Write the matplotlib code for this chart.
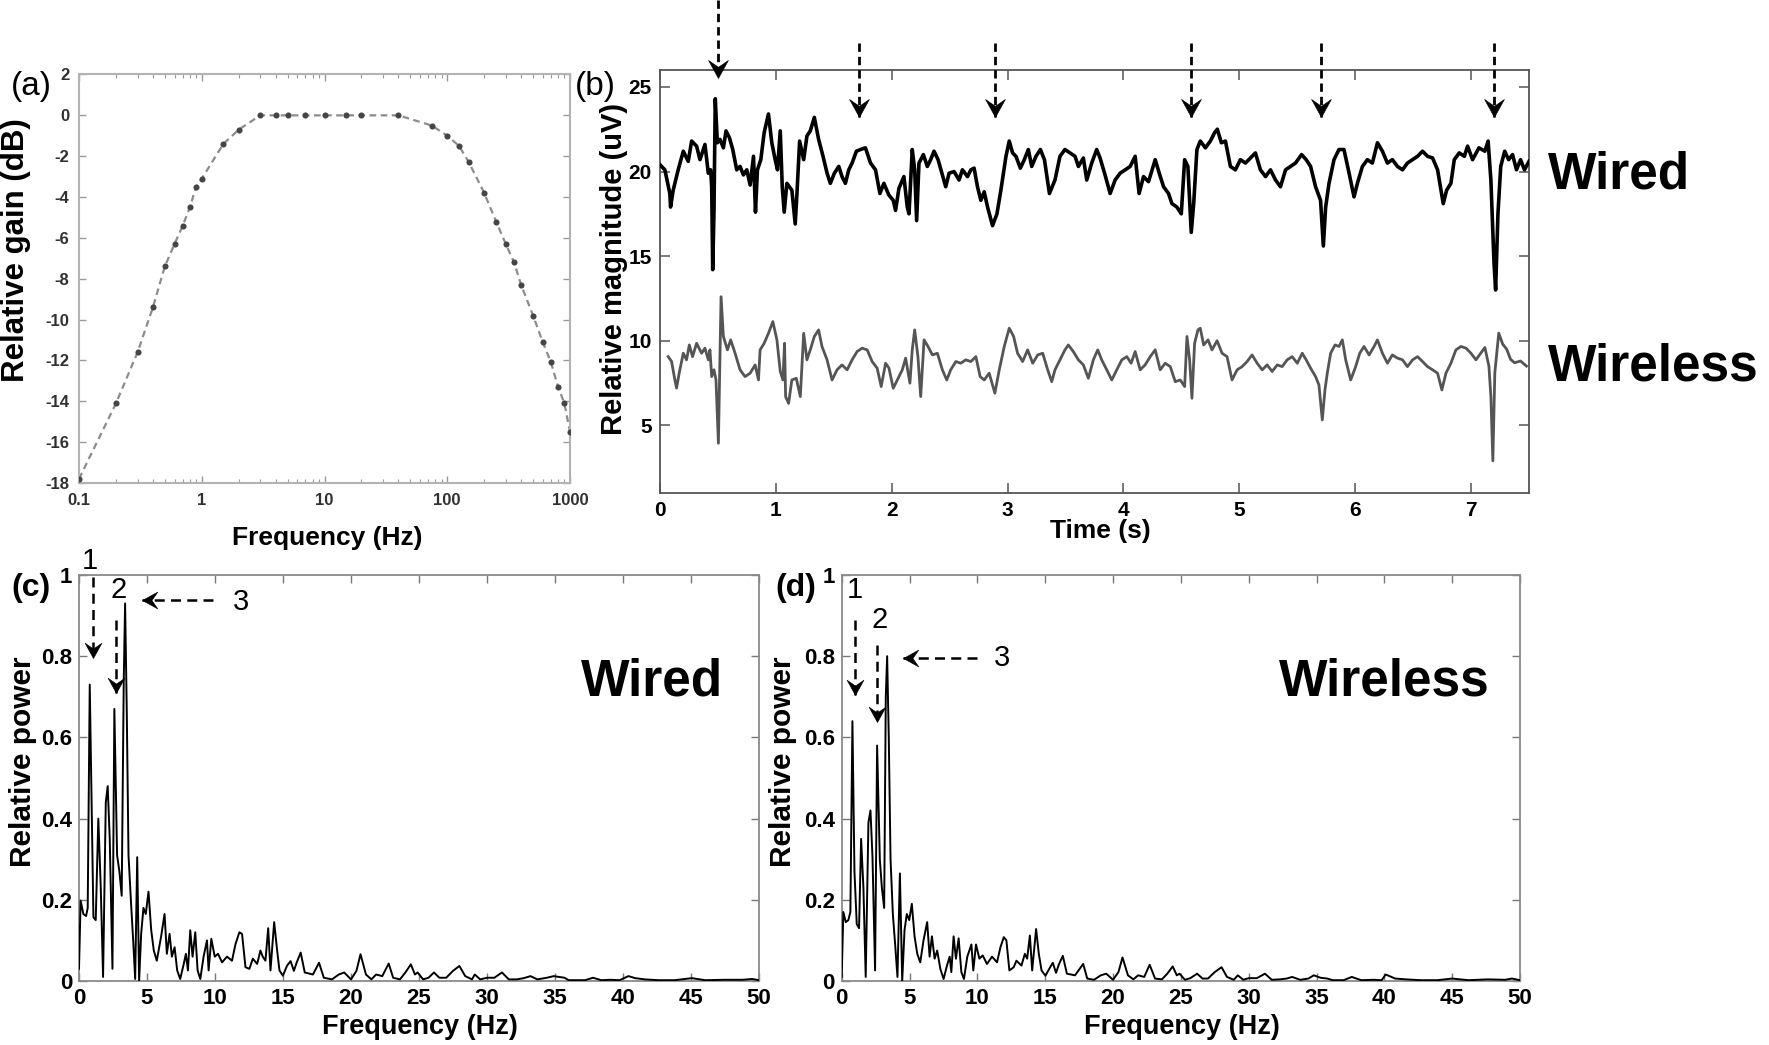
import numpy as np
import matplotlib
matplotlib.use('Agg')
import matplotlib.pyplot as plt
from matplotlib.path import Path
from matplotlib.ticker import NullFormatter, LogLocator

plt.rcParams['font.family'] = ['Liberation Sans', 'DejaVu Sans']

# ---------------- (a) filter response ----------------
gain_freq = [0.1, 0.2, 0.3, 0.4, 0.5, 0.6, 0.7, 0.8, 0.9, 1.0, 1.5, 2, 3, 4, 5, 7, 10, 15, 20, 40,
             75, 100, 125, 150, 200, 250, 300, 350, 400, 500, 600, 700, 800, 900, 1000]
gain_db = [-17.8, -14.1, -11.6, -9.4, -7.4, -6.3, -5.4, -4.5, -3.5, -3.1, -1.4, -0.7, 0, 0, 0, 0, 0, 0, 0, 0,
           -0.5, -1.0, -1.5, -2.3, -3.8, -5.2, -6.3, -7.2, -8.3, -9.8, -11.1, -12.1, -13.3, -14.1, -15.5]
gain_xticks = [0.1, 1, 10, 100, 1000]
gain_xticklabels = ['0.1', '1', '10', '100', '1000']
gain_yticks = list(range(-18, 3, 2))

# ---------------- (b) time traces ----------------
wired_t = [0.000, 0.042, 0.085, 0.091, 0.114, 0.157, 0.201, 0.244, 0.273, 0.316, 0.345, 0.374, 0.388, 0.417,
           0.437, 0.446, 0.455, 0.466, 0.477, 0.495, 0.518, 0.547, 0.570, 0.599, 0.628, 0.662, 0.691, 0.720,
           0.749, 0.778, 0.807, 0.824, 0.841, 0.870, 0.899, 0.936, 0.965, 0.994, 1.014, 1.038, 1.055, 1.072,
           1.095, 1.138, 1.167, 1.182, 1.205, 1.240, 1.268, 1.297, 1.332, 1.369, 1.407, 1.442, 1.470, 1.505,
           1.543, 1.571, 1.600, 1.629, 1.658, 1.695, 1.730, 1.773, 1.817, 1.860, 1.898, 1.932, 1.976, 2.013,
           2.033, 2.062, 2.105, 2.134, 2.149, 2.177, 2.198, 2.215, 2.235, 2.273, 2.307, 2.336, 2.365, 2.400,
           2.437, 2.466, 2.495, 2.538, 2.581, 2.610, 2.654, 2.683, 2.711, 2.740, 2.769, 2.798, 2.827, 2.870,
           2.908, 2.942, 2.986, 3.014, 3.043, 3.072, 3.110, 3.144, 3.179, 3.208, 3.245, 3.283, 3.318, 3.361,
           3.409, 3.452, 3.495, 3.539, 3.582, 3.611, 3.654, 3.683, 3.726, 3.769, 3.798, 3.841, 3.885, 3.928,
           3.971, 4.014, 4.058, 4.101, 4.135, 4.173, 4.216, 4.274, 4.309, 4.346, 4.389, 4.418, 4.461, 4.499,
           4.528, 4.556, 4.585, 4.606, 4.634, 4.663, 4.707, 4.750, 4.787, 4.810, 4.845, 4.880, 4.923, 4.966,
           5.009, 5.053, 5.096, 5.139, 5.182, 5.226, 5.269, 5.312, 5.355, 5.399, 5.442, 5.485, 5.537, 5.577,
           5.615, 5.658, 5.701, 5.725, 5.745, 5.774, 5.817, 5.860, 5.903, 5.941, 5.990, 6.019, 6.062, 6.105,
           6.148, 6.192, 6.235, 6.278, 6.321, 6.365, 6.408, 6.451, 6.495, 6.538, 6.581, 6.624, 6.668, 6.711,
           6.740, 6.760, 6.789, 6.826, 6.855, 6.898, 6.942, 6.970, 7.013, 7.068, 7.119, 7.147, 7.171, 7.198,
           7.212, 7.232, 7.256, 7.290, 7.324, 7.358, 7.392, 7.427, 7.461, 7.500]
wired_v = [20.4, 20.1, 18.7, 17.9, 18.9, 20.1, 21.2, 20.6, 21.8, 21.5, 20.7, 21.3, 21.6, 19.9,
           20.1, 19.1, 14.2, 17.7, 24.3, 21.7, 21.9, 21.4, 22.4, 22.0, 21.3, 20.1, 20.3, 19.8,
           20.1, 19.2, 20.9, 17.6, 20.1, 20.7, 22.3, 23.4, 21.7, 20.7, 20.1, 22.4, 19.1, 17.6,
           19.3, 18.9, 16.9, 18.7, 21.8, 20.7, 22.1, 22.4, 23.2, 21.9, 20.9, 19.9, 19.3, 19.9,
           20.3, 19.7, 19.3, 20.1, 20.5, 21.2, 21.3, 21.4, 20.5, 20.1, 18.7, 19.3, 18.6, 18.3,
           17.7, 19.0, 19.7, 17.9, 17.5, 21.3, 20.1, 17.1, 20.5, 21.0, 20.3, 20.7, 21.2, 20.7,
           19.8, 19.1, 19.9, 20.0, 19.5, 20.1, 19.7, 20.1, 20.2, 19.1, 18.3, 18.8, 17.9, 16.8,
           17.5, 18.9, 20.9, 21.8, 21.1, 20.9, 20.2, 20.7, 21.3, 20.3, 20.9, 21.3, 20.7, 18.7,
           19.5, 20.9, 21.3, 21.1, 20.9, 20.3, 20.8, 19.5, 20.5, 21.3, 20.8, 19.8, 18.7, 19.5,
           19.9, 20.1, 20.3, 20.9, 18.7, 19.7, 19.4, 20.7, 19.9, 19.1, 18.7, 18.1, 17.9, 17.5,
           20.7, 20.3, 16.4, 18.1, 21.3, 21.8, 21.4, 21.8, 22.3, 22.5, 21.7, 21.8, 20.3, 20.1,
           20.7, 20.5, 20.8, 21.1, 20.1, 19.7, 20.1, 19.5, 19.1, 20.1, 20.3, 20.5, 21.0, 20.7,
           20.3, 19.1, 18.3, 15.6, 17.9, 19.3, 20.7, 21.3, 21.3, 20.1, 18.5, 19.3, 20.3, 20.7,
           20.5, 21.7, 21.2, 20.5, 20.7, 20.3, 20.1, 20.5, 20.7, 20.9, 21.2, 20.9, 20.8, 20.1,
           18.9, 18.1, 18.9, 19.3, 20.7, 21.1, 20.9, 21.5, 20.7, 21.4, 21.2, 21.8, 19.5, 14.6,
           13.0, 17.5, 20.3, 21.2, 20.7, 21.0, 20.1, 20.7, 20.1, 20.6]

wireless_t = [0.071, 0.100, 0.128, 0.143, 0.166, 0.201, 0.229, 0.253, 0.281, 0.316, 0.359, 0.388, 0.417,
              0.431, 0.446, 0.466, 0.483, 0.504, 0.527, 0.547, 0.582, 0.610, 0.648, 0.691, 0.734, 0.778,
              0.821, 0.850, 0.864, 0.899, 0.936, 0.974, 1.009, 1.038, 1.061, 1.075, 1.084, 1.110, 1.138,
              1.176, 1.211, 1.240, 1.268, 1.297, 1.332, 1.369, 1.398, 1.442, 1.485, 1.528, 1.571, 1.615,
              1.658, 1.701, 1.745, 1.788, 1.831, 1.874, 1.909, 1.947, 1.976, 2.013, 2.048, 2.091, 2.120,
              2.157, 2.177, 2.198, 2.226, 2.250, 2.279, 2.313, 2.351, 2.394, 2.437, 2.475, 2.509, 2.553,
              2.596, 2.639, 2.683, 2.726, 2.763, 2.798, 2.841, 2.890, 2.928, 2.971, 3.014, 3.052, 3.086,
              3.130, 3.173, 3.217, 3.260, 3.303, 3.346, 3.381, 3.409, 3.452, 3.495, 3.524, 3.567, 3.611,
              3.654, 3.697, 3.740, 3.778, 3.812, 3.856, 3.899, 3.942, 3.986, 4.029, 4.066, 4.101, 4.144,
              4.187, 4.231, 4.274, 4.317, 4.360, 4.404, 4.447, 4.490, 4.528, 4.548, 4.571, 4.591, 4.614,
              4.643, 4.663, 4.692, 4.730, 4.764, 4.808, 4.851, 4.894, 4.937, 4.981, 5.024, 5.067, 5.110,
              5.154, 5.197, 5.240, 5.283, 5.327, 5.370, 5.413, 5.456, 5.500, 5.543, 5.577, 5.615, 5.658,
              5.687, 5.716, 5.739, 5.759, 5.788, 5.826, 5.860, 5.889, 5.918, 5.961, 6.004, 6.039, 6.076,
              6.120, 6.163, 6.192, 6.235, 6.278, 6.321, 6.365, 6.408, 6.451, 6.495, 6.538, 6.581, 6.624,
              6.668, 6.711, 6.748, 6.783, 6.826, 6.869, 6.913, 6.956, 6.999, 7.042, 7.119, 7.154, 7.171,
              7.188, 7.205, 7.239, 7.273, 7.307, 7.341, 7.375, 7.427, 7.478]
wireless_v = [9.06, 8.77, 7.70, 7.20, 8.10, 9.26, 8.87, 9.75, 9.06, 9.85, 9.26, 9.56, 8.87,
              9.46, 7.88, 8.28, 7.70, 3.94, 12.6, 10.25, 9.46, 10.05, 9.26, 8.28, 7.88, 8.08,
              8.57, 7.68, 9.46, 9.85, 10.44, 11.13, 10.05, 8.18, 7.68, 9.85, 6.70, 6.30, 7.68,
              7.78, 6.70, 10.44, 8.87, 9.46, 10.25, 10.64, 9.66, 8.87, 7.68, 8.28, 8.57, 8.28,
              8.87, 9.36, 9.56, 9.46, 8.77, 8.38, 7.29, 8.67, 8.38, 7.19, 7.68, 8.28, 8.97,
              7.49, 9.46, 10.64, 9.06, 6.70, 10.05, 9.66, 9.16, 9.26, 8.28, 7.68, 8.28, 8.77,
              8.67, 8.87, 8.77, 9.06, 7.88, 7.68, 8.08, 6.90, 8.28, 9.66, 10.74, 10.25, 9.26,
              8.77, 9.46, 8.67, 9.16, 9.26, 8.28, 7.58, 8.28, 8.87, 9.46, 9.75, 9.36, 8.87,
              8.57, 7.78, 8.87, 9.46, 8.87, 8.28, 7.68, 8.28, 8.87, 9.06, 8.67, 9.36, 8.28,
              8.57, 9.06, 9.46, 8.28, 8.67, 8.47, 7.58, 7.68, 7.29, 10.25, 8.87, 6.60, 9.85,
              10.64, 10.74, 9.75, 10.05, 9.46, 10.0, 9.26, 9.06, 7.68, 8.28, 8.47, 8.77, 9.16,
              8.67, 8.28, 8.57, 8.18, 8.57, 8.47, 8.87, 9.06, 8.67, 9.26, 8.87, 8.38, 7.88,
              7.39, 5.32, 7.09, 8.08, 9.26, 9.75, 9.66, 10.05, 8.87, 7.68, 8.47, 9.26, 9.66,
              9.16, 9.66, 10.05, 9.26, 8.67, 9.16, 8.97, 8.87, 8.47, 8.87, 9.06, 8.77, 8.47,
              8.28, 8.08, 7.09, 8.08, 8.67, 9.46, 9.66, 9.56, 9.26, 8.87, 9.60, 8.50, 6.70,
              2.90, 8.10, 10.45, 9.80, 9.50, 8.90, 8.70, 8.80, 8.50]

arrow_times = [0.50, 1.72, 2.89, 4.585, 5.705, 7.20]

# ---------------- (c) wired spectrum ----------------
wired_f = [0.0, 0.12, 0.32, 0.52, 0.64, 0.79, 1.06, 1.23, 1.42, 1.60, 1.77, 1.97, 2.11, 2.26, 2.46, 2.60,
           2.80, 2.97, 3.14, 3.29, 3.39, 3.51, 3.64, 3.83, 4.00, 4.13, 4.28, 4.42, 4.57, 4.74, 4.91, 5.11,
           5.31, 5.50, 5.72, 6.04, 6.29, 6.46, 6.66, 6.83, 7.03, 7.22, 7.44, 7.69, 7.86, 8.01, 8.18, 8.35,
           8.55, 8.72, 8.92, 9.16, 9.41, 9.53, 9.73, 9.98, 10.22, 10.52, 10.88, 11.25, 11.50, 11.79, 11.99,
           12.24, 12.53, 12.78, 13.10, 13.34, 13.51, 13.71, 13.91, 14.08, 14.35, 14.57, 14.74, 14.99, 15.30,
           15.56, 15.80, 16.00, 16.30, 16.60, 17.20, 17.65, 18.00, 18.60, 19.10, 19.50, 20.00, 20.40, 20.70,
           21.10, 21.50, 21.85, 22.30, 22.77, 23.10, 23.60, 24.00, 24.40, 24.70, 24.90, 25.30, 25.70, 26.10,
           26.50, 27.00, 27.50, 27.97, 28.40, 28.90, 29.10, 29.50, 30.00, 30.54, 31.10, 31.60, 32.20, 32.70,
           33.20, 33.70, 34.40, 34.90, 35.30, 35.70, 36.00, 37.20, 37.80, 38.40, 39.10, 39.75, 40.40, 40.90,
           41.60, 42.60, 43.80, 45.06, 46.05, 47.50, 48.80, 49.50, 50.00]
wired_p = [0.03, 0.198, 0.165, 0.16, 0.18, 0.73, 0.157, 0.15, 0.40, 0.23, 0.01, 0.44, 0.48, 0.35, 0.03, 0.67,
           0.31, 0.27, 0.21, 0.74, 0.93, 0.67, 0.31, 0.19, 0.09, 0.005, 0.305, 0.0, 0.116, 0.18, 0.165, 0.22,
           0.125, 0.075, 0.05, 0.11, 0.165, 0.067, 0.116, 0.06, 0.083, 0.026, 0.005, 0.04, 0.067, 0.026, 0.125, 0.06,
           0.12, 0.026, 0.005, 0.06, 0.10, 0.026, 0.104, 0.06, 0.067, 0.046, 0.06, 0.05, 0.09, 0.12, 0.116,
           0.034, 0.03, 0.055, 0.042, 0.075, 0.06, 0.05, 0.13, 0.026, 0.145, 0.075, 0.026, 0.013, 0.038,
           0.049, 0.025, 0.045, 0.07, 0.021, 0.016, 0.045, 0.008, 0.004, 0.016, 0.021, 0.004, 0.025, 0.066,
           0.016, 0.004, 0.016, 0.012, 0.043, 0.008, 0.004, 0.021, 0.041, 0.016, 0.021, 0.004, 0.008, 0.021,
           0.008, 0.008, 0.025, 0.037, 0.012, 0.004, 0.016, 0.004, 0.008, 0.008, 0.021, 0.004, 0.004, 0.007,
           0.012, 0.004, 0.008, 0.012, 0.010, 0.008, 0.002, 0.002, 0.008, 0.002, 0.003, 0.002, 0.012, 0.007,
           0.004, 0.002, 0.002, 0.007, 0.002, 0.003, 0.003, 0.005, 0.002]

# ---------------- (d) wireless spectrum ----------------
wireless_f = [0.0, 0.12, 0.30, 0.49, 0.64, 0.79, 0.94, 1.11, 1.28, 1.43, 1.60, 1.77, 1.97, 2.12, 2.27, 2.46,
              2.61, 2.81, 2.96, 3.13, 3.25, 3.35, 3.47, 3.60, 3.77, 3.94, 4.11, 4.29, 4.46, 4.63, 4.80, 4.98,
              5.17, 5.37, 5.57, 5.79, 6.03, 6.30, 6.48, 6.65, 6.85, 7.04, 7.27, 7.51, 7.76, 7.96, 8.08, 8.25,
              8.42, 8.62, 8.82, 9.01, 9.26, 9.56, 9.70, 9.90, 10.15, 10.39, 10.71, 11.08, 11.45, 11.70, 11.95,
              12.14, 12.36, 12.68, 12.88, 13.25, 13.50, 13.67, 13.87, 14.04, 14.33, 14.53, 14.73, 15.02, 15.30,
              15.56, 15.80, 16.00, 16.30, 16.60, 17.20, 17.80, 18.10, 18.60, 19.10, 19.50, 20.00, 20.40, 20.70,
              21.10, 21.50, 21.85, 22.30, 22.70, 23.10, 23.60, 24.00, 24.40, 24.70, 24.90, 25.30, 25.70, 26.20,
              26.60, 27.00, 27.50, 28.00, 28.40, 28.90, 29.20, 29.60, 30.00, 30.60, 31.20, 31.70, 32.30, 32.80,
              33.20, 33.80, 34.40, 34.80, 35.30, 35.80, 36.20, 37.00, 37.60, 38.30, 39.20, 39.80, 40.10, 40.80,
              41.60, 42.70, 43.90, 45.00, 46.20, 47.60, 48.90, 49.40, 50.00]
wireless_p = [0.01, 0.17, 0.145, 0.15, 0.17, 0.64, 0.27, 0.14, 0.13, 0.35, 0.23, 0.01, 0.39, 0.42, 0.305, 0.026,
              0.58, 0.30, 0.23, 0.18, 0.70, 0.80, 0.60, 0.30, 0.165, 0.09, 0.01, 0.265, 0.0, 0.125, 0.165, 0.15,
              0.19, 0.11, 0.067, 0.046, 0.10, 0.145, 0.06, 0.11, 0.055, 0.075, 0.03, 0.005, 0.038, 0.06, 0.022, 0.11,
              0.055, 0.105, 0.022, 0.005, 0.06, 0.09, 0.026, 0.09, 0.055, 0.063, 0.042, 0.06, 0.046, 0.083, 0.108,
              0.10, 0.026, 0.034, 0.05, 0.038, 0.067, 0.055, 0.112, 0.026, 0.128, 0.067, 0.026, 0.013, 0.03,
              0.045, 0.02, 0.04, 0.062, 0.018, 0.014, 0.042, 0.006, 0.003, 0.014, 0.018, 0.003, 0.022, 0.058,
              0.014, 0.004, 0.014, 0.010, 0.040, 0.006, 0.004, 0.018, 0.036, 0.014, 0.018, 0.003, 0.007, 0.018,
              0.006, 0.006, 0.022, 0.034, 0.010, 0.003, 0.014, 0.003, 0.007, 0.007, 0.018, 0.003, 0.004, 0.006,
              0.010, 0.003, 0.006, 0.014, 0.008, 0.006, 0.002, 0.002, 0.010, 0.002, 0.003, 0.002, 0.016, 0.006,
              0.004, 0.002, 0.002, 0.006, 0.002, 0.004, 0.003, 0.006, 0.002]

spec_xticks = list(range(0, 51, 5))
spec_yticks = [0, 0.2, 0.4, 0.6, 0.8, 1.0]
spec_yticklabels = ['0', '0.2', '0.4', '0.6', '0.8', '1']

# ---------------- helpers ----------------
DOWN_HEAD = Path([(0, 0), (-0.55, 1.0), (0, 0.62), (0.55, 1.0), (0, 0)],
                 [Path.MOVETO, Path.LINETO, Path.LINETO, Path.LINETO, Path.CLOSEPOLY])
LEFT_HEAD = Path([(0, 0), (1.0, 0.55), (0.62, 0), (1.0, -0.55), (0, 0)],
                 [Path.MOVETO, Path.LINETO, Path.LINETO, Path.LINETO, Path.CLOSEPOLY])


def dashed_arrow(ax, x0, y0, x1, y1, head, ms, lw, dash):
    ax.plot([x0, x1], [y0, y1], color='k', lw=lw, ls=(0, dash), clip_on=False,
            dash_capstyle='butt', solid_capstyle='butt', zorder=5)
    ax.plot([x1], [y1], ls='none', marker=head, ms=ms, color='k', mec='k', mew=0.4,
            clip_on=False, zorder=6)


def bold_ticklabels(ax):
    for lab in ax.get_xticklabels() + ax.get_yticklabels():
        lab.set_fontweight('bold')


fig = plt.figure(figsize=(17.69, 10.45), dpi=100)
fig.patch.set_facecolor('white')

W, H = 1769.0, 1045.0


def box(left, top, right, bottom):
    return [left / W, 1 - bottom / H, (right - left) / W, (bottom - top) / H]


axA = fig.add_axes(box(79, 74.5, 570, 483))
axB = fig.add_axes(box(660, 70, 1529, 493))
axC = fig.add_axes(box(79, 575, 759, 981))
axD = fig.add_axes(box(841.7, 575, 1520, 981))

# ---------------- panel (a) ----------------
axA.plot(gain_freq, gain_db, color='#8c8c8c', lw=1.6, ls=(0, (3, 2)), zorder=2)
axA.plot(gain_freq, gain_db, ls='none', marker='o', ms=4.4, mfc='#454545', mec='none', zorder=3)
axA.set_xscale('log')
axA.set_xlim(0.1, 1000)
axA.set_ylim(-18, 2)
axA.set_xticks(gain_xticks)
axA.set_xticklabels(gain_xticklabels)
axA.xaxis.set_minor_locator(LogLocator(base=10, subs=range(2, 10)))
axA.xaxis.set_minor_formatter(NullFormatter())
axA.set_yticks(gain_yticks)
axA.set_yticklabels([str(v) for v in gain_yticks])
axA.tick_params(axis='both', which='major', direction='in', top=True, right=True, length=5,
                width=1.0, color='#999999', labelsize=12, labelcolor='#303030', pad=7)
axA.tick_params(axis='x', which='minor', direction='in', top=True, bottom=True, length=3,
                width=0.8, color='#999999')
for sp in axA.spines.values():
    sp.set_color('#b3b3b3')
    sp.set_linewidth(1.5)
bold_ticklabels(axA)
axA.set_xlabel('Frequency (Hz)', fontsize=19, fontweight='bold')
axA.xaxis.set_label_coords(0.505, -0.105)
axA.set_ylabel('Relative gain (dB)', fontsize=22.5, fontweight='bold')
axA.yaxis.set_label_coords(-0.097, 0.57)

# ---------------- panel (b) ----------------
axB.plot(wireless_t, wireless_v, color='#555555', lw=2.0, zorder=2)
axB.plot(wired_t, wired_v, color='black', lw=2.6, zorder=3)
axB.set_xlim(0, 7.5)
axB.set_ylim(1, 26)
axB.set_xticks(range(0, 8))
axB.set_yticks([5, 10, 15, 20, 25])
axB.tick_params(axis='both', direction='in', top=True, right=True, length=7, width=1.1,
                color='#555555', labelsize=15, pad=6)
for sp in axB.spines.values():
    sp.set_color('#555555')
    sp.set_linewidth(1.3)
bold_ticklabels(axB)
axB.set_xlabel('Time (s)', fontsize=19, fontweight='bold')
axB.xaxis.set_label_coords(0.507, -0.062)
axB.set_ylabel('Relative magnitude (uV)', fontsize=21, fontweight='bold')
axB.yaxis.set_label_coords(-0.037, 0.53)
for i, t in enumerate(arrow_times):
    if i == 0:
        dashed_arrow(axB, t, 30.15, t, 25.5, DOWN_HEAD, 26, 2.0, (3.0, 1.8))
    else:
        dashed_arrow(axB, t, 27.6, t, 23.25, DOWN_HEAD, 26, 2.0, (3.0, 1.8))

fig.text(1548 / W, 1 - 175 / H, 'Wired', fontsize=37, fontweight='bold', ha='left', va='center')
fig.text(1548 / W, 1 - 367 / H, 'Wireless', fontsize=37, fontweight='bold', ha='left', va='center')

# ---------------- panels (c) and (d) ----------------
for ax, f, p in ((axC, wired_f, wired_p), (axD, wireless_f, wireless_p)):
    ax.plot(f, p, color='black', lw=1.4, zorder=3)
    ax.set_xlim(0, 50)
    ax.set_ylim(0, 1)
    ax.set_xticks(spec_xticks)
    ax.set_yticks(spec_yticks)
    ax.set_yticklabels(spec_yticklabels)
    ax.tick_params(axis='both', direction='in', top=True, right=True, length=6, width=1.0,
                   color='#777777', labelsize=16, pad=5)
    for sp in ax.spines.values():
        sp.set_color('#8a8a8a')
        sp.set_linewidth(1.3)
    bold_ticklabels(ax)
    ax.set_xlabel('Frequency (Hz)', fontsize=19.5, fontweight='bold')
    ax.xaxis.set_label_coords(0.502, -0.081)
    ax.set_ylabel('Relative power', fontsize=21.5, fontweight='bold')

axC.yaxis.set_label_coords(-0.062, 0.54)
axD.yaxis.set_label_coords(-0.066, 0.54)

axC.text(0.842, 0.736, 'Wired', transform=axC.transAxes, fontsize=37, fontweight='bold',
         ha='center', va='center')
axD.text(0.80, 0.736, 'Wireless', transform=axD.transAxes, fontsize=37, fontweight='bold',
         ha='center', va='center')

# peak annotations (c)
axC.text(0.82, 1.035, '1', fontsize=21, ha='center', va='center', clip_on=False)
axC.text(2.89, 0.963, '2', fontsize=21, ha='center', va='center', clip_on=False)
axC.text(11.89, 0.934, '3', fontsize=21, ha='center', va='center', clip_on=False)
dashed_arrow(axC, 1.0, 0.995, 1.0, 0.795, DOWN_HEAD, 22, 1.8, (4, 2.5))
dashed_arrow(axC, 2.72, 0.889, 2.72, 0.709, DOWN_HEAD, 22, 1.8, (4, 2.5))
dashed_arrow(axC, 9.88, 0.938, 4.61, 0.938, LEFT_HEAD, 22, 1.8, (4, 2.5))

# peak annotations (d)
axD.text(0.98, 0.963, '1', fontsize=21, ha='center', va='center', clip_on=False)
axD.text(2.77, 0.889, '2', fontsize=21, ha='center', va='center', clip_on=False)
axD.text(11.79, 0.795, '3', fontsize=21, ha='center', va='center', clip_on=False)
dashed_arrow(axD, 0.98, 0.889, 0.98, 0.704, DOWN_HEAD, 22, 1.8, (4, 2.5))
dashed_arrow(axD, 2.58, 0.828, 2.58, 0.639, DOWN_HEAD, 22, 1.8, (4, 2.5))
dashed_arrow(axD, 9.95, 0.796, 4.54, 0.796, LEFT_HEAD, 22, 1.8, (4, 2.5))

# panel letters
fig.text(11 / W, 1 - 86 / H, '(a)', fontsize=24, ha='left', va='center')
fig.text(575 / W, 1 - 86 / H, '(b)', fontsize=24, ha='left', va='center')
fig.text(11 / W, 1 - 588 / H, '(c)', fontsize=23, fontweight='bold', ha='left', va='center')
fig.text(775 / W, 1 - 588 / H, '(d)', fontsize=23, fontweight='bold', ha='left', va='center')

fig.savefig('out.png', dpi=100, facecolor='white')
